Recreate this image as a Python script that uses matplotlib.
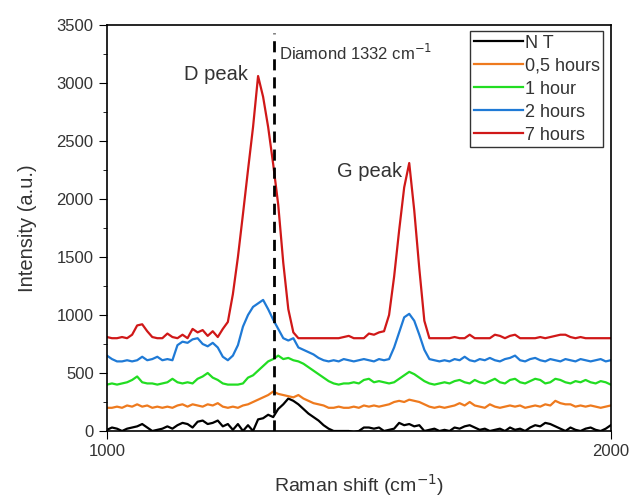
import numpy as np
import matplotlib.pyplot as plt
from matplotlib.ticker import MultipleLocator

plt.rcParams['font.family'] = ['Liberation Sans', 'DejaVu Sans']

# --- dados (passo de 10 cm-1) ---
raman_shift = list(range(1000, 2001, 10))

nt = [10, 30, 20, 0, 20, 30, 40, 60, 30, 0,
      10, 20, 40, 20, 50, 70, 60, 30, 80, 90,
      60, 70, 90, 40, 60, 10, 60, 0, 50, 0,
      100, 110, 140, 120, 190, 230, 280, 260, 230, 190,
      150, 120, 90, 50, 20, 0, 0, 0, 0, -10,
      0, 30, 30, 20, 30, 0, 10, 20, 70, 50,
      60, 40, 50, 0, 10, 20, 0, 10, 0, 30,
      20, 40, 50, 30, 10, 20, 0, 10, 20, 0,
      30, 10, 20, 0, 30, 50, 40, 70, 60, 40,
      20, 0, 30, 10, 0, 20, 30, 10, 0, 20,
      50]

h05 = [200, 200, 210, 200, 220, 210, 230, 210, 220, 200,
       210, 200, 210, 200, 220, 230, 210, 230, 220, 210,
       230, 220, 240, 210, 200, 210, 200, 220, 230, 250,
       270, 290, 310, 340, 320, 310, 300, 290, 310, 280,
       260, 240, 230, 220, 200, 200, 210, 200, 200, 210,
       200, 220, 210, 220, 210, 220, 230, 250, 260, 250,
       270, 260, 250, 230, 210, 200, 210, 200, 210, 220,
       240, 220, 250, 220, 210, 200, 230, 210, 200, 210,
       220, 210, 220, 200, 210, 220, 210, 230, 220, 260,
       240, 230, 230, 210, 220, 210, 220, 210, 200, 210,
       220]

h1 = [400, 410, 400, 410, 420, 440, 470, 420, 410, 410,
      400, 410, 420, 450, 420, 410, 420, 410, 450, 470,
      500, 460, 440, 410, 400, 400, 400, 410, 460, 480,
      520, 560, 600, 620, 650, 620, 630, 610, 600, 580,
      550, 520, 490, 460, 430, 410, 400, 410, 410, 420,
      410, 440, 450, 420, 430, 420, 410, 420, 450, 480,
      510, 490, 460, 430, 410, 400, 410, 420, 410, 430,
      440, 420, 410, 440, 420, 410, 430, 450, 420, 410,
      440, 450, 420, 410, 430, 450, 440, 410, 420, 450,
      440, 420, 410, 430, 420, 440, 420, 410, 430, 420,
      400]

h2 = [650, 620, 600, 600, 610, 600, 610, 640, 610, 620,
      640, 610, 620, 610, 740, 770, 760, 790, 800, 750,
      730, 760, 720, 640, 610, 650, 740, 900, 1000, 1070,
      1100, 1130, 1050, 960, 880, 800, 780, 800, 720, 700,
      680, 660, 630, 610, 600, 610, 600, 620, 610, 600,
      610, 620, 610, 600, 620, 610, 620, 720, 850, 980,
      1010, 950, 830, 700, 620, 610, 600, 610, 600, 620,
      610, 640, 610, 600, 620, 610, 630, 610, 600, 620,
      630, 650, 610, 600, 620, 630, 610, 600, 620, 610,
      600, 620, 610, 600, 620, 610, 600, 610, 620, 600,
      610]

h7 = [810, 800, 800, 810, 800, 830, 910, 920, 860, 810,
      800, 800, 840, 810, 800, 830, 800, 880, 850, 870,
      820, 860, 810, 880, 940, 1180, 1500, 1870, 2250, 2620,
      3060, 2880, 2620, 2300, 1950, 1450, 1050, 850, 800, 800,
      800, 800, 800, 800, 800, 800, 800, 810, 820, 800,
      800, 800, 840, 830, 850, 860, 1000, 1330, 1730, 2100,
      2310, 1900, 1400, 950, 800, 800, 800, 800, 800, 810,
      800, 800, 830, 800, 800, 800, 800, 830, 820, 800,
      820, 830, 800, 800, 800, 800, 810, 800, 810, 820,
      830, 830, 810, 800, 810, 800, 800, 800, 800, 800,
      800]

labels = ['N T', '0,5 hours', '1 hour', '2 hours', '7 hours']
series = [nt, h05, h1, h2, h7]
colors = ['#000000', '#ee7a1e', '#22dd22', '#1f7ad6', '#d01818']

diamond_line = 1332

fig = plt.figure(figsize=(6.29, 4.97), dpi=100)
ax = fig.add_axes([0.170, 0.1328, 0.801, 0.8169])

for y, lab, c in zip(series, labels, colors):
    ax.plot(raman_shift, y, color=c, lw=1.6, label=lab)

ax.plot([diamond_line, diamond_line], [0, 3430], color='black', lw=2,
        ls=(0, (4, 2.5)))

txt = '#333333'
ax.text(1341, 3260, 'Diamond 1332 cm$^{-1}$', fontsize=12, color=txt,
        va='center', ha='left')
ax.text(1216, 3075, 'D peak', fontsize=14.5, color=txt, ha='center', va='center')
ax.text(1522, 2235, 'G peak', fontsize=14.5, color=txt, ha='center', va='center')

ax.set_xlim(1000, 2000)
ax.set_ylim(0, 3500)
ax.set_xticks([1000, 2000])
ax.yaxis.set_major_locator(MultipleLocator(500))
ax.yaxis.set_minor_locator(MultipleLocator(250))
ax.tick_params(axis='both', which='major', direction='out', length=6,
               labelsize=12, labelcolor=txt)
ax.tick_params(axis='y', which='minor', direction='out', length=3)
for s in ax.spines.values():
    s.set_linewidth(1.2)

ax.set_xlabel('Raman shift (cm$^{-1}$)', fontsize=14, color=txt, labelpad=9)
ax.set_ylabel('Intensity (a.u.)', fontsize=14.5, color=txt, labelpad=14)

leg = ax.legend(loc='upper right', bbox_to_anchor=(0.985, 0.985), fontsize=13,
                frameon=True, fancybox=False, edgecolor='black',
                handlelength=2.7, handletextpad=0.1, borderpad=0.2,
                labelspacing=0.33, borderaxespad=0)
leg.get_frame().set_linewidth(1.0)
for t in leg.get_texts():
    t.set_color(txt)

fig.savefig('out.png', dpi=100)
